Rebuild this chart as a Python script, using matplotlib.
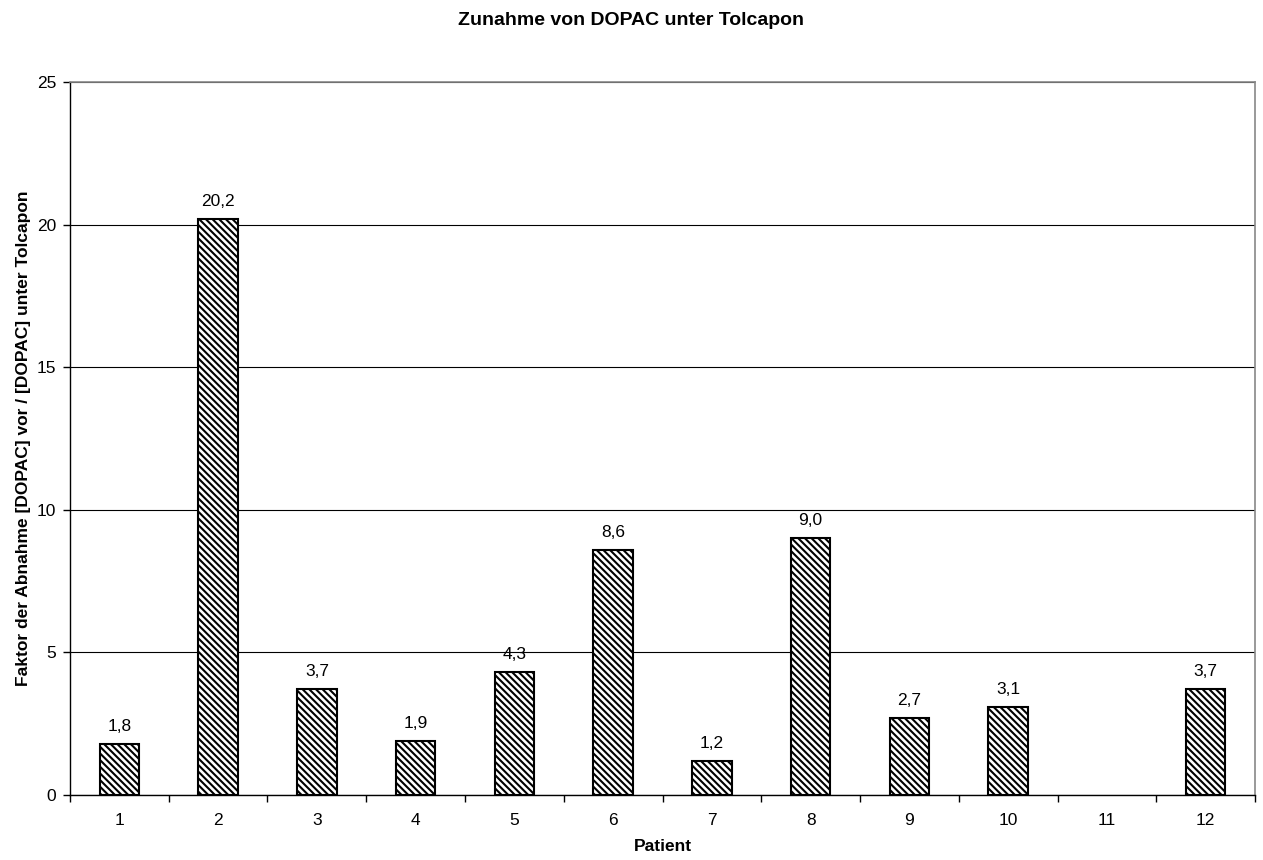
import matplotlib
matplotlib.use("Agg")
import matplotlib.pyplot as plt
import numpy as np

# Patienten und Faktoren (Patient 11 ohne Wert)
patients = ["1", "2", "3", "4", "5", "6", "7", "8", "9", "10", "11", "12"]
factors = [1.8, 20.2, 3.7, 1.9, 4.3, 8.6, 1.2, 9.0, 2.7, 3.1, np.nan, 3.7]
y_ticks = [0, 5, 10, 15, 20, 25]

plt.rcParams["font.family"] = ["Liberation Sans", "DejaVu Sans"]
plt.rcParams["hatch.linewidth"] = 1.5

fig = plt.figure(figsize=(12.63, 8.6), dpi=100)
ax = fig.add_axes([0.0554, 0.0756, 0.9383, 0.8291])

x = np.arange(len(patients))
vals = np.array(factors, dtype=float)
bars = ax.bar(x, np.nan_to_num(vals), width=0.4, color="white",
              edgecolor="black", linewidth=1.5, hatch="\\\\\\\\\\", zorder=3)
for b, v in zip(bars, vals):
    if np.isnan(v):
        b.set_visible(False)
        continue
    ax.text(b.get_x() + b.get_width() / 2, v + 0.35, f"{v:.1f}".replace(".", ","),
            ha="center", va="bottom", fontsize=12.5)

ax.set_xlim(-0.5, len(patients) - 0.5)
ax.set_ylim(0, 25)
ax.set_yticks(y_ticks)
ax.set_xticks(x)
ax.set_xticklabels(patients, fontsize=12.5)
ax.set_xticks(np.arange(-0.5, len(patients), 1), minor=True)
ax.tick_params(axis="x", which="major", length=0, pad=13)
ax.tick_params(axis="x", which="minor", length=5, width=1)
ax.tick_params(axis="y", length=5, width=1, labelsize=12.5, pad=5)
ax.yaxis.grid(True, color="black", linewidth=0.8, zorder=0)
ax.set_axisbelow(True)

for s in ("top", "right"):
    ax.spines[s].set_color("#888888")
    ax.spines[s].set_linewidth(1.2)
for s in ("left", "bottom"):
    ax.spines[s].set_color("black")
    ax.spines[s].set_linewidth(1.0)

ax.set_xlabel("Patient", fontsize=12.5, fontweight="bold", labelpad=8)
ax.set_ylabel("Faktor der Abnahme [DOPAC] vor / [DOPAC] unter Tolcapon",
              fontsize=12.5, fontweight="bold", labelpad=4)
fig.text(0.5, 0.976, "Zunahme von DOPAC unter Tolcapon", ha="center", va="center",
         fontsize=14, fontweight="bold")

fig.savefig("out.png", dpi=100)
